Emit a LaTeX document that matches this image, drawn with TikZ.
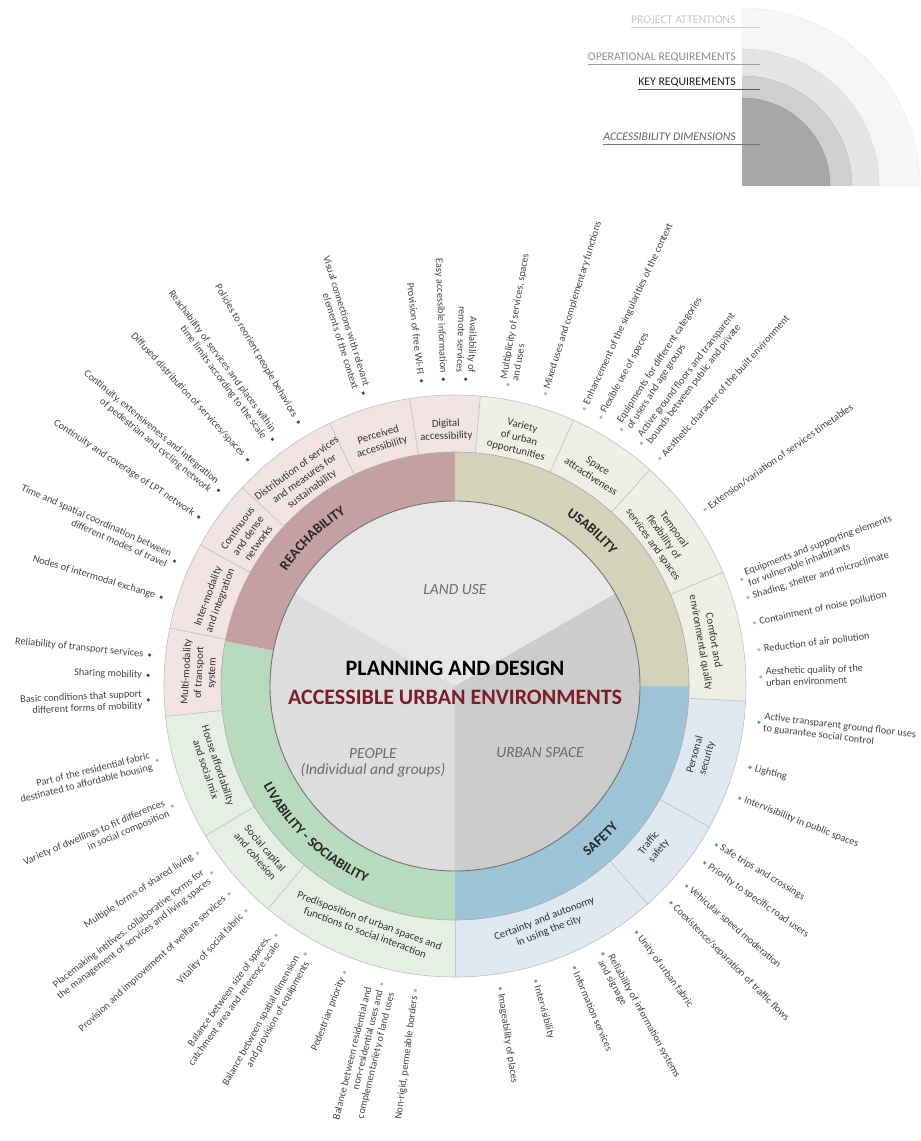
\documentclass[tikz,border=0pt]{standalone}
\usepackage{fontspec}
\setmainfont{Carlito}
\usetikzlibrary{decorations.text}
\definecolor{reachdim}{RGB}{196,160,162}
\definecolor{usedim}{RGB}{213,210,186}
\definecolor{livdim}{RGB}{184,219,190}
\definecolor{safedim}{RGB}{158,196,215}
\definecolor{reachop}{RGB}{242,227,228}
\definecolor{useop}{RGB}{240,239,230}
\definecolor{livop}{RGB}{229,239,228}
\definecolor{safeop}{RGB}{222,233,242}
\definecolor{reachdot}{RGB}{138,43,66}
\definecolor{usedot}{RGB}{184,181,156}
\definecolor{livdot}{RGB}{150,192,158}
\definecolor{safedot}{RGB}{90,156,186}
\definecolor{landuse}{RGB}{232,232,232}
\definecolor{peoplecol}{RGB}{221,221,221}
\definecolor{urbspace}{RGB}{204,204,204}
\definecolor{labtext}{RGB}{68,68,68}
\definecolor{titlered}{RGB}{124,30,40}
\definecolor{legone}{RGB}{168,168,168}
\definecolor{legtwo}{RGB}{207,207,207}
\definecolor{legthree}{RGB}{229,229,229}
\definecolor{legfour}{RGB}{246,246,246}
\newcommand{\ringpart}[5]{\fill[#5] (#1:#3) arc[start angle=#1,end angle=#2,radius=#3] -- (#2:#4) arc[start angle=#2,end angle=#1,radius=#4] -- cycle;}
\newcommand{\dimlabfont}{\fontsize{14}{16}\selectfont\bfseries}

\begin{document}
\begin{tikzpicture}[x=1pt,y=1pt,
  outlab/.style={font=\fontsize{10.3}{11.6}\selectfont,text=labtext,inner sep=0pt},
  oplab/.style={font=\fontsize{10.8}{12.8}\selectfont,text=black!80,align=center,inner sep=0pt},
  sectlab/.style={font=\fontsize{15.5}{16.5}\selectfont\itshape,text=black!58,align=center},
  leglab/.style={font=\fontsize{11.8}{13}\selectfont,anchor=base east,inner sep=0pt}]
\useasboundingbox (-455,-455) rectangle (466,686);

% core: three sectors
\fill[landuse] (0,0) -- (30:185) arc[start angle=30,end angle=150,radius=185] -- cycle;
\fill[peoplecol] (0,0) -- (150:185) arc[start angle=150,end angle=270,radius=185] -- cycle;
\fill[urbspace] (0,0) -- (270:185) arc[start angle=270,end angle=390,radius=185] -- cycle;

% accessibility dimensions
\ringpart{90}{169}{185}{234}{reachdim}
\ringpart{169}{270}{185}{234}{livdim}
\ringpart{270}{360}{185}{234}{safedim}
\ringpart{0}{90}{185}{234}{usedim}

% operational requirements
\ringpart{85}{186}{234}{291}{reachop}
\ringpart{186}{270}{234}{291}{livop}
\ringpart{270}{357}{234}{291}{safeop}
\ringpart{-3}{85}{234}{291}{useop}
\foreach \a in {85,99,115.5,137,151,168.5,186,211,230,270,311.5,331,357,23,48,66}
  \draw[black!22,line width=0.8] (\a:234) -- (\a:291);
\draw[black!55,line width=0.9] (0,0) circle[radius=185];
\draw[black!35,line width=0.6] (0,0) circle[radius=234];
\draw[black!25,line width=0.6] (0,0) circle[radius=291];

% centre texts
\node[font=\fontsize{22}{25}\selectfont\bfseries] (plan) at (0,18) {PLANNING AND DESIGN};
\node[font=\fontsize{22}{25}\selectfont\bfseries,text=titlered] (aue) at (0,-11) {ACCESSIBLE URBAN ENVIRONMENTS};
\node[sectlab] (land) at (0,96) {LAND USE};
\node[sectlab] (people) at (-82,-77) {PEOPLE\\(Individual and groups)};
\node[sectlab] (urban) at (85,-67) {URBAN SPACE};

% dimension names
\path[decorate,decoration={text along path,text={|\dimlabfont|REACHABILITY},text align=center,text color=black!85}]
  (160:204) arc[start angle=160,end angle=108,radius=204];
\path[decorate,decoration={text along path,text={|\dimlabfont|USABILITY},text align=center,text color=black!85}]
  (75:204) arc[start angle=75,end angle=22,radius=204];
\path[decorate,decoration={text along path,text={|\dimlabfont|LIVABILITY - SOCIABILITY},text align=center,text color=black!85}]
  (192:216) arc[start angle=192,end angle=261,radius=216];
\path[decorate,decoration={text along path,text={|\dimlabfont|SAFETY},text align=center,text color=black!85}]
  (290:216) arc[start angle=290,end angle=337,radius=216];

% key requirements, upper half
\foreach \a/\t [count=\i] in {92/{Digital\\accessibility},107/{Perceived\\accessibility},
    126/{Distribution of services\\and measures for\\sustainability},144/{Continuous\\and dense\\networks},
    160/{Inter-modality\\and integration},177/{Multi-modality\\of transport\\system},
    10/{Comfort and\\environmental quality},35.5/{Temporal\\flexibility of\\services and spaces},
    57/{Space\\attractiveness},75.5/{Variety\\of urban\\opportunities}}
  \node[oplab,rotate=\a-90] (optop\i) at (\a:256) {\t};
% key requirements, lower half
\foreach \a/\t [count=\i] in {198.5/{House affordability\\and social mix},220.5/{Social capital\\and cohesion},
    250/{Predisposition of urban spaces and\\functions to social interaction},
    291/{Certainty and autonomy\\in using the city},321/{Traffic\\safety},344/{Personal\\security}}
  \node[oplab,rotate=\a+90] (opbot\i) at (\a:256) {\t};

% project attentions: reachability
\foreach \a/\t [count=\i] in {107.4/{Visual connections with relevant\\elements of the context},
    96.3/{Provision of free Wi-Fi},92.2/{Easy accessible information},88/{Availability of\\remote services},
    120.7/{Policies to reorient people behaviors},
    126.5/{Reachability of services and places within\\time limits according to the scale},
    132.5/{Diffused distribution of services/spaces},
    140.4/{Continuity, extensiveness and integration\\of pedestrian and cycling network},
    146.6/{Continuity and coverage of LPT network},
    156/{Time and spatial coordination between\\different modes of travel},
    163.2/{Nodes of intermodal exchange},174.2/{Reliability of transport services},
    178/{Sharing mobility},182.6/{Basic conditions that support\\different forms of mobility}}{
  \fill[reachdot] (\a:307) circle[radius=1.8];
  \node[outlab,anchor=east,align=right,rotate=\a+180] (reach\i) at (\a:313) {\t};}

% project attentions: livability
\foreach \a/\t [count=\i] in {194/{Part of the residential fabric\\destinated to affordable housing},
    203/{Variety of dwellings to fit differences\\in social composition},
    213/{Multiple forms of shared living},
    217.5/{Placemaking intitives, collaborative forms for\\the management of services and living spaces},
    222.6/{Provision and improvement of welfare services},227.1/{Vitality of social fabric},
    234.3/{Balance between size of spaces,\\catchment area and reference scale},
    240.8/{Balance between spatial dimension\\and provision of equipments},
    248.9/{Pedestrian priority},
    256.2/{Balance between residential and\\non-residential uses and\\complementariety of land uses},
    262.6/{Non-rigid, permeable borders}}{
  \fill[livdot] (\a:307) circle[radius=1.8];
  \node[outlab,anchor=east,align=right,rotate=\a+180] (liv\i) at (\a:313) {\t};}

% project attentions: safety
\foreach \a/\t [count=\i] in {278.5/{Imageability of places},285.3/{Intervisibility},293/{Information services},
    298.9/{Reliability of information systems\\and signage},306.4/{Unity of urban fabric},
    314.9/{Coexistence/separation of traffic flows},319.2/{Vehicular speed moderation},
    324.7/{Priority to specific road users},328.7/{Safe trips and crossings},
    338.5/{Intervisibility in public spaces},344.6/{Lighting},
    353.2/{Active transparent ground floor uses\\to guarantee social control}}{
  \fill[safedot] (\a:306) circle[radius=1.8];
  \node[outlab,anchor=west,align=left,rotate=\a] (safe\i) at (\a:311) {\t};}

% project attentions: usability
\foreach \a/\t [count=\i] in {1.7/{Aesthetic quality of the\\urban environment},6.8/{Reduction of air pollution},
    11.9/{Containment of noise pollution},16.8/{Shading, shelter and microclimate},
    20.4/{Equipments and supporting elements\\for vulnerable inhabitants},
    35.2/{Extension/variation of services timetables},
    48/{Aesthetic character of the built environment},
    52.5/{Active ground floors and transparent\\bounds between public and private},
    57/{Equipments for different categories\\of users and age groups},
    61.5/{Flexible use of spaces},65/{Enhancement of the singularities of the context},
    72.8/{Mixed uses and complementary functions},80/{Multiplicity of services, spaces\\and uses}}{
  \fill[usedot] (\a:306) circle[radius=1.8];
  \node[outlab,anchor=west,align=left,rotate=\a] (use\i) at (\a:311) {\t};}

% legend
\begin{scope}[shift={(287,500)}]
  \fill[legfour] (0,0) -- (178,0) arc[start angle=0,end angle=90,radius=178] -- cycle;
  \fill[legthree] (0,0) -- (137,0) arc[start angle=0,end angle=90,radius=137] -- cycle;
  \fill[legtwo] (0,0) -- (110,0) arc[start angle=0,end angle=90,radius=110] -- cycle;
  \fill[legone] (0,0) -- (88,0) arc[start angle=0,end angle=90,radius=88] -- cycle;
  \foreach \r/\c in {178/black!8,137/black!14,110/black!25,88/black!40}
    \draw[\c,line width=0.5] (\r,0) arc[start angle=0,end angle=90,radius=\r];
  \foreach \a in {85,66,44,25}
    \draw[black!12,line width=0.6] (\a:110) -- (\a:137);
  \coordinate (legaxis) at (18,0);
\end{scope}
\node[leglab,text=black!22] (pa) at (281,662) {PROJECT ATTENTIONS};
\node[leglab,text=black!45] (opr) at (281,625) {OPERATIONAL REQUIREMENTS};
\node[leglab,text=black!88] (kr) at (281,600) {KEY REQUIREMENTS};
\node[leglab,text=black!62,font=\fontsize{11.8}{13}\selectfont\itshape] (ad) at (281,545) {ACCESSIBILITY DIMENSIONS};
\foreach \n/\c in {pa/black!18,opr/black!38,kr/black!65,ad/black!55}{
  \coordinate (\n-u) at ([yshift=-3pt]\n.base west);
  \draw[\c,line width=0.7] (\n-u) -- (\n-u -| legaxis);}
\end{tikzpicture}
\end{document}
